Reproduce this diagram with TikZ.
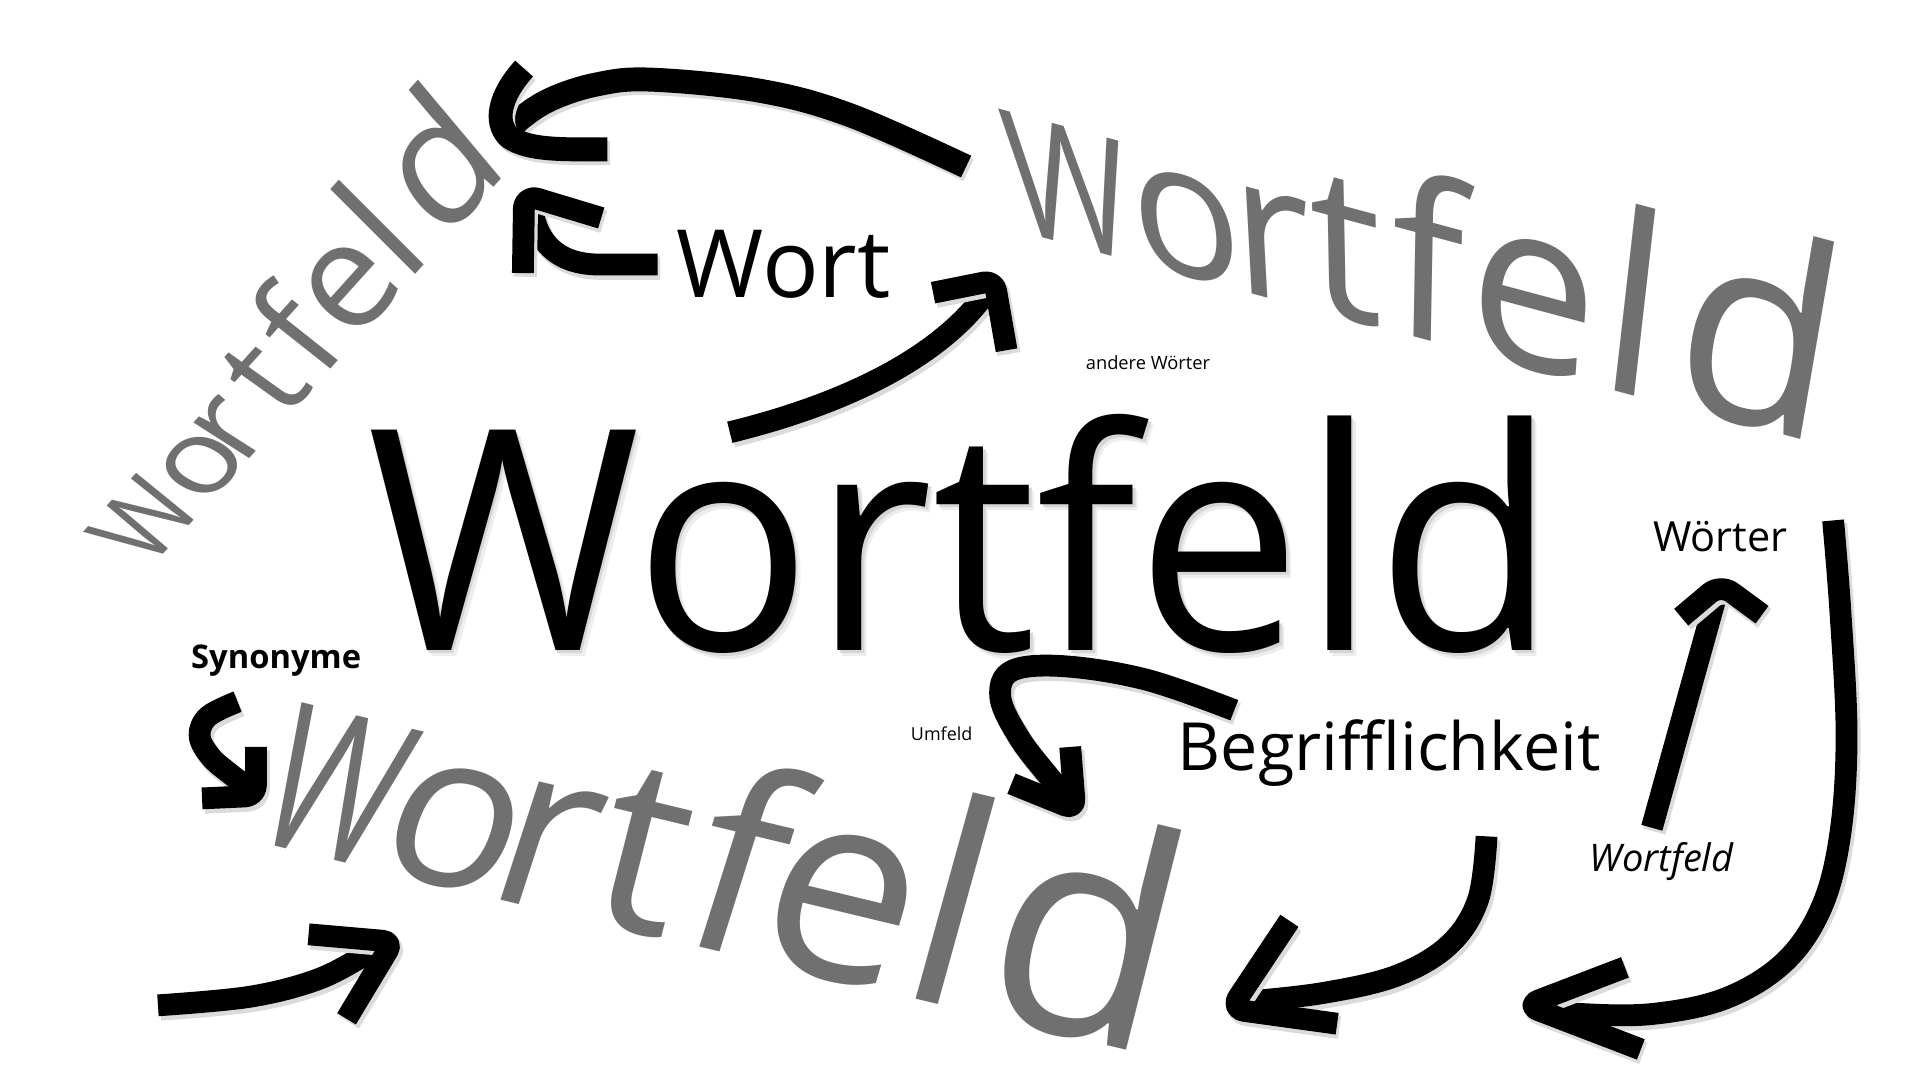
\documentclass[tikz,border=0pt]{standalone}
\usepackage{fontspec}
\setmainfont{Open Sans}[Ligatures=NoCommon]
\definecolor{wgray}{RGB}{112,112,112}
\tikzset{
  arr/.style={line width=6.2pt, line cap=butt, line join=round, draw=black},
  shd/.style={line width=6.6pt, line cap=butt, line join=round, draw=black!14},
  gw/.style={inner sep=0pt, anchor=base, text depth=0pt, text=wgray, font=\fontsize{48.8}{50}\selectfont},
  lbl/.style={inner sep=0pt, anchor=base, text=black},
}
% #1 x, #2 y (baseline point), #3 baseline angle, #4 extra slant, #5 scale, #6 glyph, #7 name, #8 xscale
\newcommand\glyph[8]{%
  \pgfmathsetmacro\glT{tan(#4)}%
  \pgfmathsetmacro\glC{cos(#4)}%
  \begin{scope}[shift={(#1,#2)},rotate=#3,xslant=\glT,yscale=\glC,scale=#5,xscale=#8]
    \node[gw,transform shape] (#7) at (0,0) {#6};
  \end{scope}}
\newcommand\sarrow[2][]{%
  \begin{scope}[shift={(2,3)}]\draw[shd,#1] #2;\end{scope}
  \draw[arr,#1] #2;}
\begin{document}
\begin{tikzpicture}[x=0.0122449cm, y=-0.0122449cm]
\useasboundingbox[fill=white] (0,0) rectangle (1568,882);

% --- top-right gray Wortfeld
\glyph{880}{202}{-15}{-23.7}{1.008}{W}{trW}{0.8}
\glyph{973}{226.7}{-15}{-20.4}{1.103}{o}{tro}{1}
\glyph{1041}{244.9}{-15}{-18.1}{1.168}{r}{trr}{1}
\glyph{1100}{260.7}{-15}{-16.1}{1.225}{t}{trt}{1}
\glyph{1165}{278.1}{-15}{-13.95}{1.287}{f}{trf}{1}
\glyph{1249}{300.6}{-15}{-11.1}{1.368}{e}{tre}{1}
\glyph{1327}{321.5}{-15}{-8.5}{1.443}{l}{trl}{1}
\glyph{1425}{346.5}{-15}{-5.25}{1.536}{d}{trd}{1}

% --- left gray Wortfeld
\glyph{146}{439}{48}{-15.5}{0.628}{W}{lW}{0.82}
\glyph{187.7}{392.7}{48}{-12.1}{0.688}{o}{lo}{1}
\glyph{211.9}{365.8}{48}{-9.4}{0.72}{r}{lr}{1}
\glyph{244.9}{329.1}{48}{-6.4}{0.77}{t}{lt}{1}
\glyph{274.5}{296.3}{48}{-3.6}{0.816}{f}{lf}{1}
\glyph{310.4}{256.4}{48}{-0.3}{0.87}{e}{le}{1}
\glyph{342.7}{220.6}{48}{3}{0.92}{l}{ll}{1}
\glyph{389}{169}{48}{8}{0.99}{d}{ld}{1}

% --- bottom gray Wortfeld
\glyph{254}{698}{-13.5}{7.5}{1.20}{W}{bW}{0.68}
\glyph{355}{722.2}{-13.5}{6.6}{1.29}{o}{bo}{1}
\glyph{431}{740.2}{-13.5}{4.5}{1.355}{r}{br}{1}
\glyph{510}{759.3}{-13.5}{0.8}{1.425}{t}{bt}{1}
\glyph{584}{776.6}{-13.5}{4.0}{1.49}{f}{bf}{1}
\glyph{670}{797.6}{-13.5}{2.8}{1.566}{e}{be}{1}
\glyph{757}{818.5}{-13.5}{2.0}{1.643}{l}{bl}{1}
\glyph{867.5}{845}{-13.5}{0.6}{1.74}{d}{bd}{1}

% --- big black Wortfeld with soft shadow
\node[lbl, xscale=0.955, text=black!7, font=\fontsize{87.8}{90}\selectfont] (wfs2) at (790,536) {Wortfeld};
\node[lbl, xscale=0.955, text=black!16, font=\fontsize{87.8}{90}\selectfont] (wfs1) at (788,533.5) {Wortfeld};
\node[lbl, xscale=0.955, font=\fontsize{87.8}{90}\selectfont] (wf) at (786,531) {Wortfeld};

% --- arrows
% top arrow
\sarrow[line width=6.8pt]{plot[smooth, tension=0.6] coordinates {(789,136) (694,94) (620,74) (531,65) (487,69) (450,81) (425,97) (414,110)}}
\sarrow[line width=6.8pt]{(428,56) .. controls (408,78) and (403,100) .. (416,112) .. controls (432,123) and (460,122) .. (496,122)}
% Wort arrow
\sarrow{(537,216) -- (487,216) .. controls (455,215) and (437,198) .. (434,165)}
\sarrow[rounded corners=4pt]{(427,223) -- (428,159) -- (491,178)}
% arrow to top-right word
\sarrow{(596,353) .. controls (690,330) and (768,292) .. (806,238)}
\sarrow[rounded corners=3pt]{(762,239) -- (812,229) -- (822,286)}
% Woerter arrow
\sarrow{(1349,676) -- (1402,485)}
\sarrow[rounded corners=4pt]{(1373,504) -- (1405,477) -- (1439,502)}
% long right arrow
\sarrow{plot[smooth, tension=0.6] coordinates {(1497,425) (1503,500) (1508,600) (1503,680) (1488,740) (1458,785) (1410,815) (1350,828) (1290,828) (1255,823)}}
\sarrow[rounded corners=4pt]{(1327,790) -- (1246,821) -- (1340,857)}
% Begrifflichkeit arrow
\sarrow{plot[smooth, tension=0.6] coordinates {(1214,683) (1207,735) (1183,772) (1140,797) (1080,811) (1018,818)}}
\sarrow[rounded corners=4pt]{(1053,752) -- (1005,824) -- (1092,836)}
% Umfeld arrow
\sarrow{plot[smooth, tension=0.6] coordinates {(1008,580) (936,555) (868,544) (826,548) (817,570) (832,602) (854,631) (869,648)}}
\sarrow[rounded corners=3pt]{(826,640) -- (878,661) -- (874,610)}
% Synonyme arrow
\sarrow{plot[smooth, tension=0.6] coordinates {(194,573) (170,585) (163,601) (172,618) (188,632) (204,644)}}
\sarrow[rounded corners=3pt]{(209,610) -- (209,650) -- (165,652)}
% bottom-left arrow
\sarrow{plot[smooth, tension=0.6] coordinates {(129,821) (204,814) (259,800) (298,780) (312,771)}}
\sarrow[rounded corners=3pt]{(252,763) -- (321,769) -- (283,832)}

% --- labels
\node[lbl, font=\fontsize{26.8}{28}\selectfont] (wort) at (640,243) {Wort};
\node[lbl, font=\fontsize{5.2}{6}\selectfont] (andere) at (937.5,301.5) {andere Wörter};
\node[lbl, font=\fontsize{11.8}{13}\selectfont] (woerter) at (1405,450) {Wörter};
\node[lbl, font=\bfseries\fontsize{9.3}{11}\selectfont] (syn) at (225.5,546) {Synonyme};
\node[lbl, font=\fontsize{5.1}{6}\selectfont] (umfeld) at (769,605) {Umfeld};
\node[lbl, font=\fontsize{18.9}{20}\selectfont] (begr) at (1134.5,629) {Begrifflichkeit};
\node[lbl, font=\itshape\fontsize{10.8}{12}\selectfont] (wfi) at (1357,712) {Wortfeld};
\end{tikzpicture}
\end{document}
